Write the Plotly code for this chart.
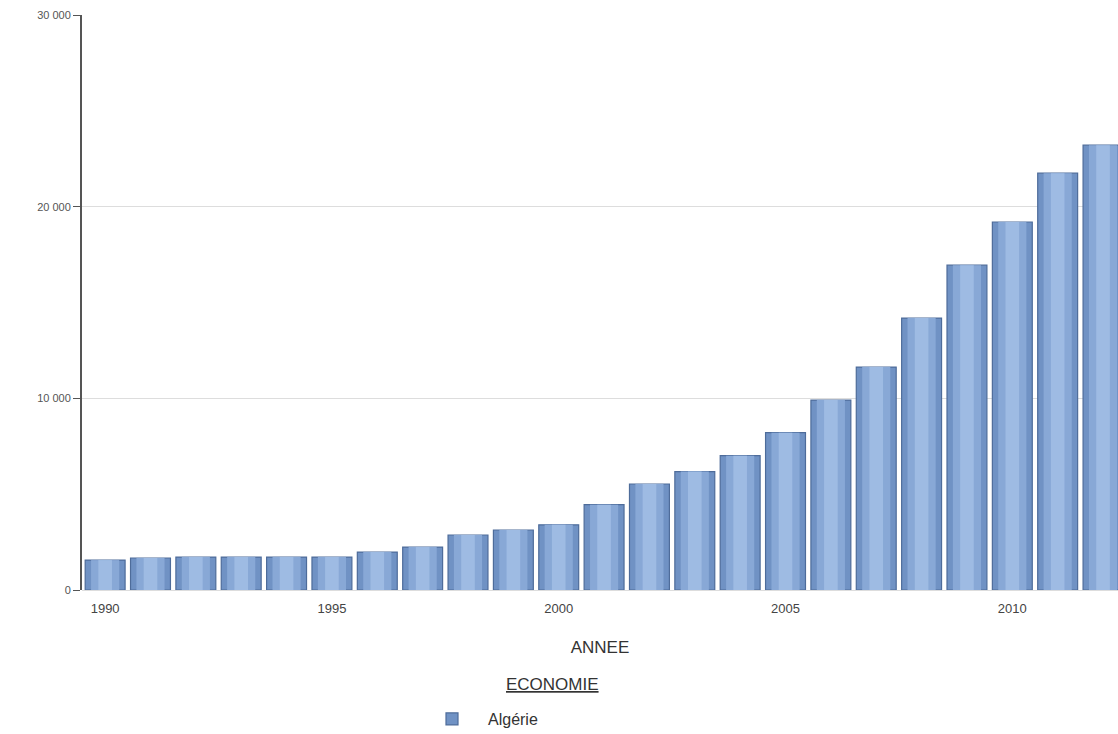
import plotly.graph_objects as go

years = list(range(1990, 2013))
values = [1560, 1670, 1720, 1720, 1720, 1720, 1980, 2240, 2870, 3130, 3400,
          4450, 5530, 6180, 7010, 8210, 9910, 11630, 14190, 16950, 19200, 21750, 23210]
series_name = "Algérie"
legend_title = "ECONOMIE"
x_title = "ANNEE"
y_tickvals = [0, 10000, 20000, 30000]
y_ticktext = ["0", "10 000", "20 000", "30 000"]
x_tickvals = [1990, 1995, 2000, 2005, 2010]

FONT = "Liberation Sans, Arial, sans-serif"

fig = go.Figure()
# base bar (darker edges)
fig.add_trace(go.Bar(
    x=years, y=values, name=series_name, width=0.88,
    marker=dict(color="#7092C4", line=dict(color="#4E6C9A", width=1.2)),
    showlegend=True,
))
# highlight layers imitating the cylinder shading
fig.add_trace(go.Bar(
    x=years, y=values, width=0.62,
    marker=dict(color="#88A8D6", line=dict(width=0)),
    showlegend=False, hoverinfo="skip",
))
fig.add_trace(go.Bar(
    x=years, y=values, width=0.30,
    marker=dict(color="#9EBBE3", line=dict(width=0)),
    showlegend=False, hoverinfo="skip",
))

fig.update_layout(
    width=1118, height=734,
    margin=dict(l=82, r=0, t=15, b=144, autoexpand=False),
    paper_bgcolor="white", plot_bgcolor="white",
    barmode="overlay",
    font=dict(family=FONT, color="#333333"),
    xaxis=dict(
        range=[1989.49, 2012.33], automargin=False,
        tickvals=x_tickvals, ticks="", showgrid=False, zeroline=False,
        showline=False, ticklabelstandoff=9,
        tickfont=dict(size=13, color="#444444"),
        title=dict(text=x_title, font=dict(size=17, color="#333333"), standoff=26),
    ),
    yaxis=dict(
        range=[0, 30000], automargin=False,
        tickvals=y_tickvals, ticktext=y_ticktext,
        showgrid=True, gridcolor="#DDDDDD", gridwidth=1,
        zeroline=True, zerolinecolor="#DDDDDD", zerolinewidth=1,
        showline=True, linecolor="#555555", linewidth=2,
        ticks="outside", ticklen=7, tickcolor="#555555", tickwidth=1,
        tickfont=dict(size=11, color="#555555"),
    ),
    showlegend=True,
    legend=dict(
        orientation="h", x=(416 - 82) / 1036, xanchor="left",
        y=-(702 - 590) / 575, yanchor="top", itemwidth=62,
        font=dict(size=16, color="#333333"),
        bgcolor="rgba(0,0,0,0)",
    ),
    annotations=[dict(
        text="<u>" + legend_title + "</u>", xref="paper", yref="paper",
        x=(552 - 82) / 1036, y=-(684 - 590) / 575, xanchor="center", yanchor="middle",
        showarrow=False, font=dict(size=17, color="#333333", family=FONT),
    )],
)

fig.write_html("out.html")
